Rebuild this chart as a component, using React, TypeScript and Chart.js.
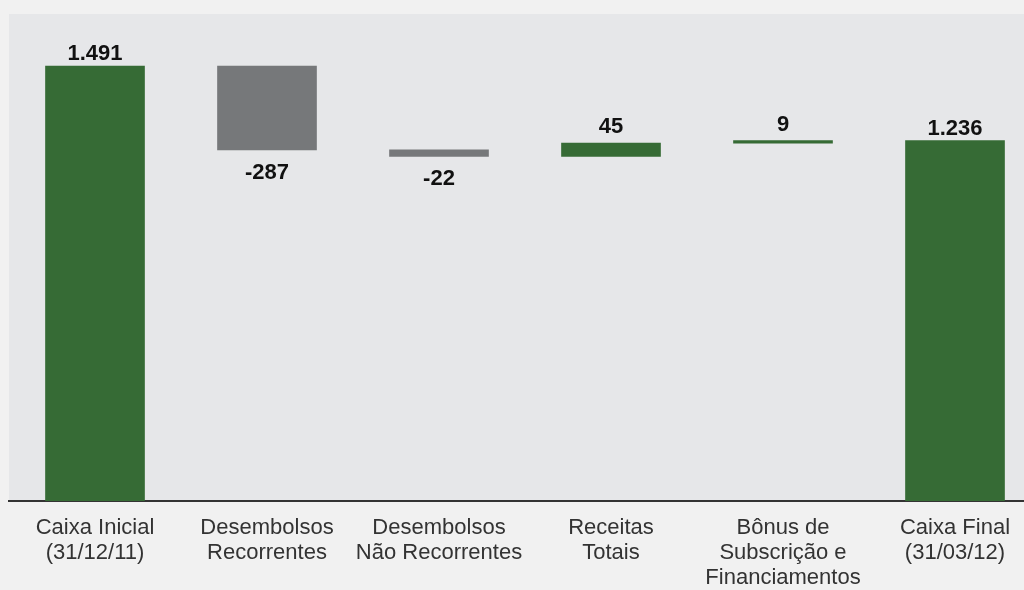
import React, { useEffect, useRef } from "react";
import { Chart, registerables } from "chart.js";

Chart.register(...registerables);

const categories: string[][] = [
  ["Caixa Inicial", "(31/12/11)"],
  ["Desembolsos", "Recorrentes"],
  ["Desembolsos", "Não Recorrentes"],
  ["Receitas", "Totais"],
  ["Bônus de", "Subscrição e", "Financiamentos"],
  ["Caixa Final", "(31/03/12)"],
];
const startingCash = 1491;
const changes = [-287, -22, 45, 9];
const endingCash = 1236;

const GREEN = "#366b35";
const GRAY = "#76787a";

function fmt(v: number): string {
  const s = Math.abs(v).toString().replace(/\B(?=(\d{3})+(?!\d))/g, ".");
  return (v < 0 ? "-" : "") + s;
}

export default function App() {
  const ref = useRef<HTMLCanvasElement | null>(null);
  useEffect(() => {
    if (!ref.current) return;
    const ranges: [number, number][] = [[0, startingCash]];
    const values: number[] = [startingCash];
    const isTotal: boolean[] = [true];
    let level = startingCash;
    for (const c of changes) {
      ranges.push([level, level + c]);
      values.push(c);
      isTotal.push(false);
      level += c;
    }
    ranges.push([0, endingCash]);
    values.push(endingCash);
    isTotal.push(true);
    const colors = values.map((v) => (v < 0 ? GRAY : GREEN));

    const bgPlugin = {
      id: "plotBg",
      beforeDraw(chart: any) {
        const { ctx, chartArea } = chart;
        ctx.save();
        ctx.fillStyle = "#e6e7e9";
        ctx.fillRect(chartArea.left, chartArea.top, chartArea.right - chartArea.left, chartArea.bottom - chartArea.top);
        ctx.restore();
      },
    };
    const labelPlugin = {
      id: "valueLabels",
      afterDatasetsDraw(chart: any) {
        const { ctx } = chart;
        const meta = chart.getDatasetMeta(0);
        ctx.save();
        ctx.font = "bold 22px 'Liberation Sans', Arial, sans-serif";
        ctx.fillStyle = "#111111";
        ctx.textAlign = "center";
        ctx.textBaseline = "alphabetic";
        meta.data.forEach((el: any, i: number) => {
          const top = Math.min(el.y, el.base);
          const bottom = Math.max(el.y, el.base);
          const v = values[i];
          if (v < 0) {
            ctx.fillText(fmt(v), el.x, bottom + 29);
          } else {
            ctx.fillText(fmt(v), el.x, top - (isTotal[i] ? 6 : 10));
          }
        });
        ctx.restore();
      },
    };

    const chart = new Chart(ref.current, {
      type: "bar",
      data: {
        labels: categories,
        datasets: [
          {
            data: ranges as any,
            backgroundColor: colors,
            borderWidth: 0,
            barThickness: 99,
            borderSkipped: false,
          },
        ],
      },
      options: {
        animation: false,
        responsive: false,
        layout: { padding: { left: 9, top: 14, right: 0, bottom: 0 } },
        plugins: { legend: { display: false }, tooltip: { enabled: false } },
        scales: {
          x: {
            type: "category",
            offset: true,
            grid: { display: false, drawTicks: false },
            border: { display: true, color: "#333333", width: 2 },
            ticks: {
              autoSkip: false,
              maxRotation: 0,
              minRotation: 0,
              padding: 14,
              color: "#333333",
              font: { family: "'Liberation Sans', Arial, sans-serif", size: 22, lineHeight: 1.136 },
            },
            afterFit(scale: any) {
              scale.height = 89;
            },
          },
          y: {
            display: false,
            min: 0,
            max: 1670,
          },
        },
      },
      plugins: [bgPlugin, labelPlugin],
    });
    return () => chart.destroy();
  }, []);

  return (
    <div
      style={{
        position: "fixed",
        left: 0,
        top: 0,
        width: 1024,
        height: 590,
        overflow: "hidden",
        background: "#f1f1f1",
      }}
    >
      <canvas ref={ref} width={1041} height={590} style={{ display: "block" }} />
    </div>
  );
}
